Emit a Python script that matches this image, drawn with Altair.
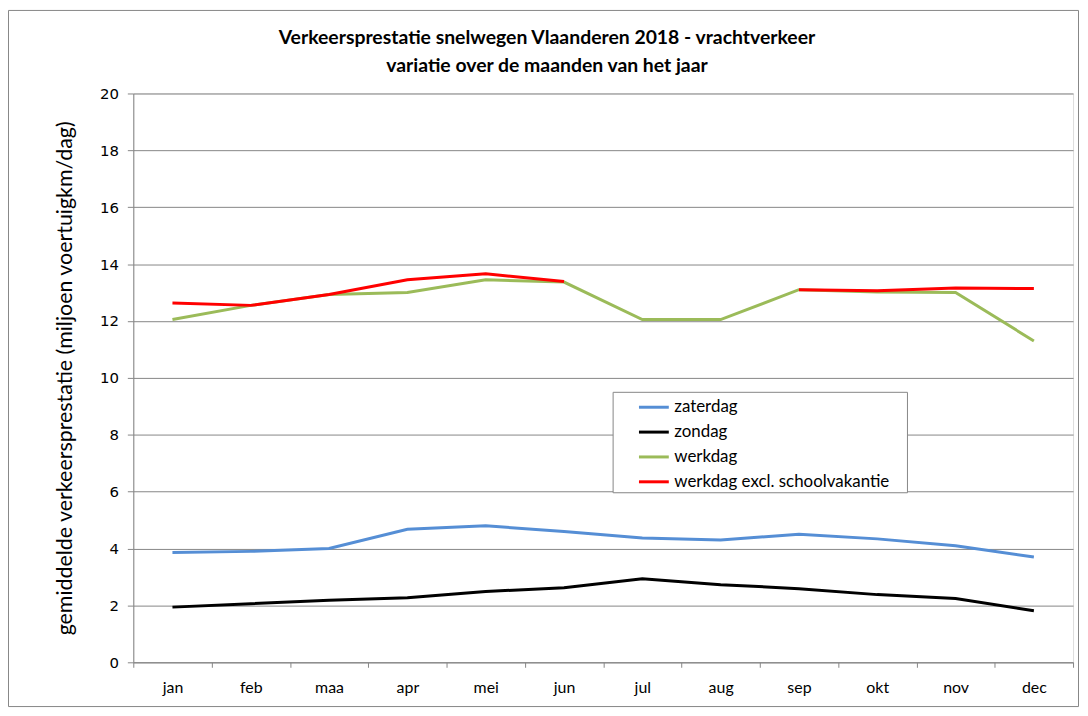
import altair as alt
import pandas as pd

months = ["jan", "feb", "maa", "apr", "mei", "jun", "jul", "aug", "sep", "okt", "nov", "dec"]
zaterdag = [3.86, 3.90, 4.00, 4.68, 4.80, 4.60, 4.37, 4.30, 4.50, 4.34, 4.10, 3.70]
zondag = [1.94, 2.06, 2.18, 2.27, 2.49, 2.62, 2.94, 2.73, 2.59, 2.38, 2.24, 1.81]
werkdag = [12.05, 12.55, 12.93, 13.00, 13.45, 13.37, 12.05, 12.05, 13.10, 13.02, 13.00, 11.30]
werkdag_excl = [12.63, 12.55, 12.93, 13.45, 13.66, 13.39, None, None, 13.10, 13.06, 13.16, 13.14]

series_names = ["zaterdag", "zondag", "werkdag", "werkdag excl. schoolvakantie"]
series_values = [zaterdag, zondag, werkdag, werkdag_excl]
series_colors = ["#558ED5", "#000000", "#9BBB59", "#FF0000"]

title_lines = ["Verkeersprestatie snelwegen Vlaanderen 2018 - vrachtverkeer",
               "variatie over de maanden van het jaar"]

rows = []
for si, (name, vals) in enumerate(zip(series_names, series_values)):
    seg = 0
    for m, v in zip(months, vals):
        if v is None:
            seg += 1
            continue
        rows.append({"maand": m, "waarde": v, "reeks": name, "order": si, "seg": f"{si}-{seg}"})
df = pd.DataFrame(rows)

FONT = "Lato"
W, H = 945, 572

lines = alt.Chart(df).mark_line(strokeWidth=3, clip=False).encode(
    x=alt.X("maand:N", sort=months, bandPosition=0.5,
            scale=alt.Scale(type="band", domain=months, paddingInner=0, paddingOuter=0),
            axis=alt.Axis(title=None, tickBand="extent", labelAngle=0, labelFont=FONT,
                          labelFontSize=16, labelColor="#000000", labelPadding=12,
                          tickSize=5, tickColor="#868686", domainColor="#868686",
                          grid=False)),
    y=alt.Y("waarde:Q", scale=alt.Scale(domain=[0, 20], nice=False, zero=True),
            axis=alt.Axis(title="gemiddelde verkeersprestatie  (miljoen voertuigkm/dag)",
                          values=list(range(0, 21, 2)), labelFont="DejaVu Sans",
                          labelFontSize=15, labelColor="#000000", labelPadding=9,
                          tickSize=6, tickColor="#868686", domainColor="#868686",
                          gridColor="#868686", gridWidth=1, titleFont=FONT,
                          titleFontSize=21.5, titleFontWeight="normal", titleColor="#000000",
                          titlePadding=23)),
    color=alt.Color("reeks:N",
                    scale=alt.Scale(domain=series_names, range=series_colors),
                    legend=alt.Legend(title=None, orient="none", legendX=507, legendY=299,
                                      symbolType="stroke", symbolSize=900,
                                      symbolStrokeWidth=3, labelFont=FONT, labelFontSize=17,
                                      labelColor="#000000", rowPadding=-4.5, labelLimit=0,
                                      padding=0, labelOffset=4, offset=0)),
    detail="seg:N",
    order=alt.Order("order:Q"),
)

one = pd.DataFrame({"a": [0]})

border = alt.Chart(one).mark_rect(
    fill=None, stroke="#868686", strokeWidth=1, clip=False
).encode(
    x=alt.value(-125.5), x2=alt.value(W + 5.5),
    y=alt.value(-83.5), y2=alt.value(H + 44.5),
)

legend_box = alt.Chart(one).mark_rect(
    fill="#FFFFFF", stroke="#868686", strokeWidth=1, clip=False
).encode(
    x=alt.value(482.5), x2=alt.value(778.5),
    y=alt.value(300.5), y2=alt.value(401.5),
)

title1 = alt.Chart(one).mark_text(
    text=title_lines[0], font=FONT, fontSize=19.5, fontWeight="bold", color="#000000",
    align="center", baseline="middle", clip=False
).encode(x=alt.value(416), y=alt.value(-56))

title2 = alt.Chart(one).mark_text(
    text=title_lines[1], font=FONT, fontSize=19.5, fontWeight="bold", color="#000000",
    align="center", baseline="middle", clip=False
).encode(x=alt.value(416), y=alt.value(-28))

chart = alt.layer(border, lines, legend_box, title1, title2).properties(
    width=W,
    height=H,
    autosize=alt.AutoSizeParams(type="none"),
    padding={"left": 126, "top": 84, "right": 7, "bottom": 46},
).configure_view(stroke=None).configure(background="white")

chart.save("out.html", embed_options={"renderer": "svg", "actions": False})
